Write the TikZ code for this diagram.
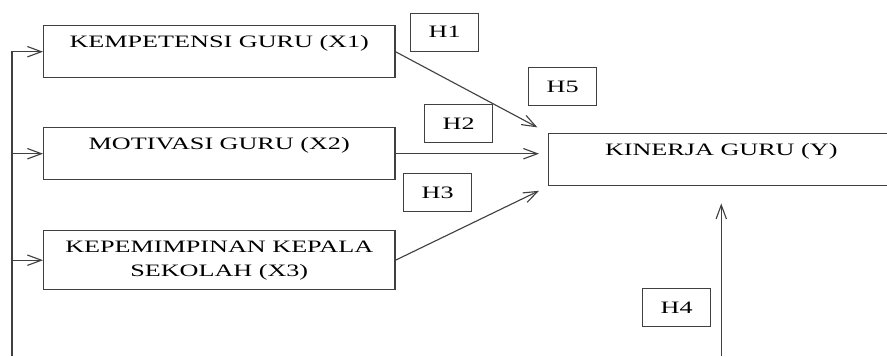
\documentclass[tikz,border=0pt]{standalone}
\usepackage{graphicx}
\usepackage{fontspec}
\setmainfont{Liberation Serif}
\usetikzlibrary{arrows.meta,positioning}
\tikzset{
  box/.style={draw=black!75, line width=1pt, anchor=north west, inner sep=0pt,
              minimum width=8.775cm, font=\fontsize{12.4}{17}\selectfont, text=black},
  var/.style={box, text height=0.55cm, text depth=0.75cm},
  hyp/.style={draw=black!75, line width=1pt, anchor=north west, inner sep=0pt,
              minimum width=1.7cm, minimum height=0.95cm,
              font=\fontsize{12.4}{17}\selectfont, text=black},
  flow/.style={-{Straight Barb[length=3.5mm,width=2.6mm]}, draw=black!75, line width=0.8pt},
}
\newcommand{\wide}[1]{\scalebox{1.5}[1]{#1}}

\begin{document}
\begin{tikzpicture}[x=0.025cm, y=-0.025cm]
  \useasboundingbox (0,0) rectangle (887,356);
  % variables
  \node[var] (x1) at (43,25) {\wide{KEMPETENSI GURU (X1)}};
  \node[var] (x2) at (43,127) {\wide{MOTIVASI GURU (X2)}};
  \node[box, align=center, minimum height=1.475cm] (x3) at (43,230) {\wide{KEPEMIMPINAN KEPALA}\\ \wide{SEKOLAH (X3)}};
  \node[var, minimum width=8.625cm] (y) at (548,133) {\wide{KINERJA GURU (Y)}};
  % hypotheses
  \node[hyp] (h1) at (410,12.5) {\wide{H1}};
  \node[hyp] (h5) at (528,67) {\wide{H5}};
  \node[hyp] (h2) at (424,104) {\wide{H2}};
  \node[hyp] (h3) at (403,173) {\wide{H3}};
  \node[hyp] (h4) at (642,288) {\wide{H4}};
  % connectors
  \coordinate (lb) at (12,356);
  \draw[flow] (lb) |- (x1.west);
  \draw[flow] (lb |- x2.west) -- (x2.west);
  \draw[flow] (lb |- x3.west) -- (x3.west);
  \draw[flow, shorten >=0.3cm] (x1.east) -- (y.north west);
  \draw[flow, shorten >=0.225cm] (x2.east) -- (x2.east -| y.west);
  \draw[flow, shorten >=0.25cm] (x3.east) -- (y.south west);
  \draw[flow, shorten >=0.425cm] (lb -| y.south) -- (y.south);
\end{tikzpicture}
\end{document}
